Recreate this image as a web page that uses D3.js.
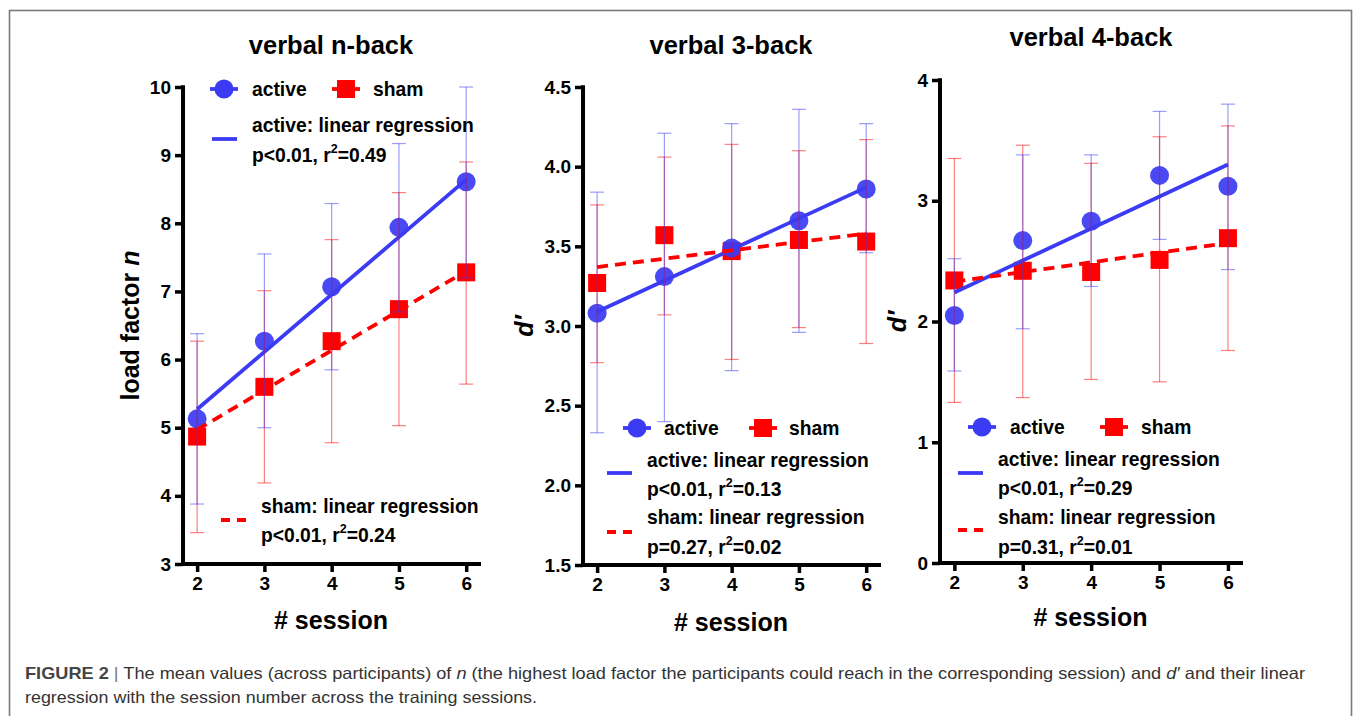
<!DOCTYPE html>
<html><head><meta charset="utf-8">
<script src="https://cdn.jsdelivr.net/npm/d3@7"></script>
<style>
html,body{margin:0;padding:0;background:#fff;}
svg{display:block;font-family:"Liberation Sans",Arial,Helvetica,sans-serif;}
</style></head>
<body>
<svg id="chart" width="1355" height="716"></svg>
<script>
// ---------- data ----------
const sessions = [2, 3, 4, 5, 6];
const fitSessions = [2, 6];

// verbal n-back (load factor n)
const nbackActive   = [5.13, 6.27, 7.07, 7.94, 8.61];
const nbackActiveLo = [3.88, 5.00, 5.85, 6.70, 7.20];
const nbackActiveHi = [6.38, 7.55, 8.29, 9.17, 10.00];
const nbackSham     = [4.87, 5.60, 6.27, 6.74, 7.28];
const nbackShamLo   = [3.46, 4.19, 4.78, 5.03, 5.64];
const nbackShamHi   = [6.27, 7.01, 7.76, 8.45, 8.90];
const nbackActiveFit = [5.27, 8.64];
const nbackShamFit   = [4.97, 7.30];

// verbal 3-back (d')
const b3Active   = [3.08, 3.31, 3.49, 3.66, 3.86];
const b3ActiveLo = [2.33, 2.40, 2.72, 2.96, 3.46];
const b3ActiveHi = [3.84, 4.21, 4.27, 4.36, 4.27];
const b3Sham     = [3.27, 3.57, 3.47, 3.54, 3.53];
const b3ShamLo   = [2.77, 3.07, 2.79, 2.99, 2.89];
const b3ShamHi   = [3.76, 4.06, 4.14, 4.10, 4.17];
const b3ActiveFit = [3.09, 3.87];
const b3ShamFit   = [3.37, 3.58];

// verbal 4-back (d')
const b4Active   = [2.05, 2.67, 2.83, 3.21, 3.12];
const b4ActiveLo = [1.59, 1.94, 2.29, 2.68, 2.43];
const b4ActiveHi = [2.52, 3.38, 3.38, 3.74, 3.80];
const b4Sham     = [2.34, 2.42, 2.41, 2.51, 2.69];
const b4ShamLo   = [1.33, 1.37, 1.52, 1.50, 1.76];
const b4ShamHi   = [3.35, 3.46, 3.31, 3.53, 3.62];
const b4ActiveFit = [2.24, 3.30];
const b4ShamFit   = [2.33, 2.65];

const titles = ["verbal n-back", "verbal 3-back", "verbal 4-back"];
const yTicks1 = [3, 4, 5, 6, 7, 8, 9, 10];
const yTicks2 = [1.5, 2.0, 2.5, 3.0, 3.5, 4.0, 4.5];
const yTicks3 = [0, 1, 2, 3, 4];
const xTicks = [2, 3, 4, 5, 6];
const xTitle = "# session";
const stats = [
  {a: ["p<0.01, r", "=0.49"], s: ["p<0.01, r", "=0.24"]},
  {a: ["p<0.01, r", "=0.13"], s: ["p=0.27, r", "=0.02"]},
  {a: ["p<0.01, r", "=0.29"], s: ["p=0.31, r", "=0.01"]}
];

// ---------- layout ----------
const BLUE = "#3b3bf4", RED = "#ff0000";
const panels = [
  {x0:183, x1:481, yTop:87, yBot:564, dom:[3,10], ticks:yTicks1, fmt:d3.format("d"),
   title:{x:331, y:45}, xt:{y:620}, yt:{x:130, kind:"n"},
   act:nbackActive, actLo:nbackActiveLo, actHi:nbackActiveHi, sh:nbackSham, shLo:nbackShamLo, shHi:nbackShamHi,
   aFit:nbackActiveFit, sFit:nbackShamFit,
   leg:{cx:224, cy:89, ax:252, sqx:346, sx:373, al:{x:212, y:139, tx:252, t1:125, t2:155}, sl:{x:221, y:520, tx:261, t1:506, t2:535}}},
  {x0:583, x1:881, yTop:87, yBot:565, dom:[1.5,4.5], ticks:yTicks2, fmt:d3.format(".1f"),
   title:{x:731, y:45}, xt:{y:622}, yt:{x:524, kind:"d"},
   act:b3Active, actLo:b3ActiveLo, actHi:b3ActiveHi, sh:b3Sham, shLo:b3ShamLo, shHi:b3ShamHi,
   aFit:b3ActiveFit, sFit:b3ShamFit,
   leg:{cx:637, cy:428, ax:664, sqx:763, sx:789, al:{x:607, y:473, tx:647, t1:460, t2:489}, sl:{x:607, y:532, tx:647, t1:517, t2:547}}},
  {x0:940, x1:1243, yTop:80, yBot:563, dom:[0,4], ticks:yTicks3, fmt:d3.format("d"),
   title:{x:1091, y:37}, xt:{y:617}, yt:{x:897, kind:"d"},
   act:b4Active, actLo:b4ActiveLo, actHi:b4ActiveHi, sh:b4Sham, shLo:b4ShamLo, shHi:b4ShamHi,
   aFit:b4ActiveFit, sFit:b4ShamFit,
   leg:{cx:982, cy:427, ax:1010, sqx:1114, sx:1141, al:{x:958, y:473, tx:998, t1:459, t2:488}, sl:{x:958, y:530, tx:998, t1:517, t2:547}}}
];

const svg = d3.select("#chart");

// outer frame
svg.append("rect").attr("x", 9.5).attr("y", 10.5).attr("width", 1342).attr("height", 760)
  .attr("fill", "none").attr("stroke", "#7a7a7a").attr("stroke-width", 1.6);

panels.forEach((p, i) => {
  const x = d3.scaleLinear().domain([1.79, 6.22]).range([p.x0, p.x1]);
  const y = d3.scaleLinear().domain(p.dom).range([p.yBot, p.yTop]);
  const g = svg.append("g");

  // title
  g.append("text").attr("x", p.title.x).attr("y", p.title.y).attr("dy", "0.35em")
    .attr("text-anchor", "middle").attr("font-size", 25.5).attr("font-weight", "bold").text(titles[i]);

  // axes
  const yAxis = d3.axisLeft(y).tickValues(p.ticks).tickFormat(p.fmt).tickSize(8).tickPadding(4);
  const ya = g.append("g").attr("transform", `translate(${p.x0},0)`).call(yAxis);
  const xAxis = d3.axisBottom(x).tickValues(xTicks).tickFormat(d3.format("d")).tickSize(8).tickPadding(5);
  const xa = g.append("g").attr("transform", `translate(0,${p.yBot})`).call(xAxis);
  [ya, xa].forEach(a => {
    a.select(".domain").remove();
    a.selectAll(".tick line").attr("stroke", "#000").attr("stroke-width", 3.5);
    a.selectAll(".tick text").attr("fill", "#000").attr("font-size", 19).attr("font-weight", "bold")
      .attr("font-family", "Liberation Sans, Arial, sans-serif");
  });
  g.append("line").attr("x1", p.x0).attr("x2", p.x0).attr("y1", y(p.dom[1]) - 1.75).attr("y2", p.yBot + 1.75)
    .attr("stroke", "#000").attr("stroke-width", 4);
  g.append("line").attr("x1", p.x0 - 2).attr("x2", p.x1).attr("y1", p.yBot).attr("y2", p.yBot)
    .attr("stroke", "#000").attr("stroke-width", 4);

  // axis titles
  g.append("text").attr("x", (p.x0 + p.x1) / 2 - 1).attr("y", p.xt.y).attr("dy", "0.35em")
    .attr("text-anchor", "middle").attr("font-size", 25).attr("font-weight", "bold").text(xTitle);
  const yc = (p.yTop + p.yBot) / 2;
  const yt = g.append("text").attr("transform", `translate(${p.yt.x},${yc}) rotate(-90)`).attr("dy", "0.35em")
    .attr("text-anchor", "middle").attr("font-size", 25).attr("font-weight", "bold");
  if (p.yt.kind === "n") {
    yt.append("tspan").text("load factor ");
    yt.append("tspan").attr("font-style", "italic").text("n");
  } else {
    yt.append("tspan").attr("font-style", "italic").text("d′");
  }

  // markers
  const sq = 18;
  g.selectAll(".sq").data(sessions).enter().append("rect")
    .attr("x", (d) => x(d) - sq / 2).attr("y", (d, j) => y(p.sh[j]) - sq / 2)
    .attr("width", sq).attr("height", sq).attr("fill", RED);
  g.selectAll(".ci").data(sessions).enter().append("circle")
    .attr("cx", (d) => x(d)).attr("cy", (d, j) => y(p.act[j])).attr("r", 9.5)
    .attr("fill", BLUE).attr("fill-opacity", 0.92);

  // regression lines
  const line = d3.line().x(d => x(d[0])).y(d => y(d[1]));
  g.append("path").attr("d", line(fitSessions.map((s, j) => [s, p.aFit[j]])))
    .attr("fill", "none").attr("stroke", BLUE).attr("stroke-width", 3.8);
  g.append("path").attr("d", line(fitSessions.map((s, j) => [s, p.sFit[j]])))
    .attr("fill", "none").attr("stroke", RED).attr("stroke-width", 3.8).attr("stroke-dasharray", "11,7");

  // error bars
  const eb = (lo, hi, col) => {
    const cap = 7;
    sessions.forEach((s, j) => {
      const xx = x(s);
      g.append("line").attr("x1", xx).attr("x2", xx).attr("y1", y(lo[j])).attr("y2", y(hi[j]))
        .attr("stroke", col).attr("stroke-width", 1.2).attr("stroke-opacity", 0.5);
      [lo[j], hi[j]].forEach(v => g.append("line").attr("x1", xx - cap).attr("x2", xx + cap)
        .attr("y1", y(v)).attr("y2", y(v)).attr("stroke", col).attr("stroke-width", 1.2).attr("stroke-opacity", 0.5));
    });
  };
  eb(p.shLo, p.shHi, RED);
  eb(p.actLo, p.actHi, BLUE);

  // legend
  const L = p.leg, fs = 19.3;
  g.append("line").attr("x1", L.cx - 14).attr("x2", L.cx + 14).attr("y1", L.cy).attr("y2", L.cy)
    .attr("stroke", BLUE).attr("stroke-width", 3.8);
  g.append("circle").attr("cx", L.cx).attr("cy", L.cy).attr("r", 9.5).attr("fill", BLUE);
  g.append("text").attr("x", L.ax).attr("y", L.cy).attr("dy", "0.35em").attr("font-size", fs)
    .attr("font-weight", "bold").text("active");
  g.append("line").attr("x1", L.sqx - 14).attr("x2", L.sqx + 14).attr("y1", L.cy).attr("y2", L.cy)
    .attr("stroke", RED).attr("stroke-width", 3.8);
  g.append("rect").attr("x", L.sqx - 9).attr("y", L.cy - 9).attr("width", 18).attr("height", 18).attr("fill", RED);
  g.append("text").attr("x", L.sx).attr("y", L.cy).attr("dy", "0.35em").attr("font-size", fs)
    .attr("font-weight", "bold").text("sham");

  const regLegend = (o, col, dash, name, st) => {
    g.append("line").attr("x1", o.x).attr("x2", o.x + 25).attr("y1", o.y).attr("y2", o.y)
      .attr("stroke", col).attr("stroke-width", 3.8).attr("stroke-dasharray", dash);
    g.append("text").attr("x", o.tx).attr("y", o.t1).attr("dy", "0.35em").attr("font-size", fs)
      .attr("font-weight", "bold").text(name + ": linear regression");
    const t = g.append("text").attr("x", o.tx).attr("y", o.t2).attr("dy", "0.35em").attr("font-size", fs)
      .attr("font-weight", "bold");
    t.append("tspan").text(st[0]);
    t.append("tspan").attr("font-size", 12.5).attr("dy", "-0.7em").text("2");
    t.append("tspan").attr("dy", "0.45em").text(st[1]);
  };
  regLegend(L.al, BLUE, null, "active", stats[i].a);
  regLegend(L.sl, RED, "9,7", "sham", stats[i].s);
});

// caption
const cap1 = svg.append("text").attr("x", 25).attr("y", 679).attr("font-size", 16.5).attr("fill", "#333")
  .attr("textLength", 1280).attr("lengthAdjust", "spacingAndGlyphs");
cap1.append("tspan").attr("font-weight", "bold").attr("fill", "#444").text("FIGURE 2");
cap1.append("tspan").attr("fill", "#777").text(" | ");
cap1.append("tspan").text("The mean values (across participants) of ");
cap1.append("tspan").attr("font-style", "italic").text("n");
cap1.append("tspan").text(" (the highest load factor the participants could reach in the corresponding session) and ");
cap1.append("tspan").attr("font-style", "italic").text("d′");
cap1.append("tspan").text(" and their linear");
svg.append("text").attr("x", 25).attr("y", 703).attr("font-size", 16.5).attr("fill", "#333")
  .attr("textLength", 512).attr("lengthAdjust", "spacingAndGlyphs")
  .text("regression with the session number across the training sessions.");
</script>
</body></html>
